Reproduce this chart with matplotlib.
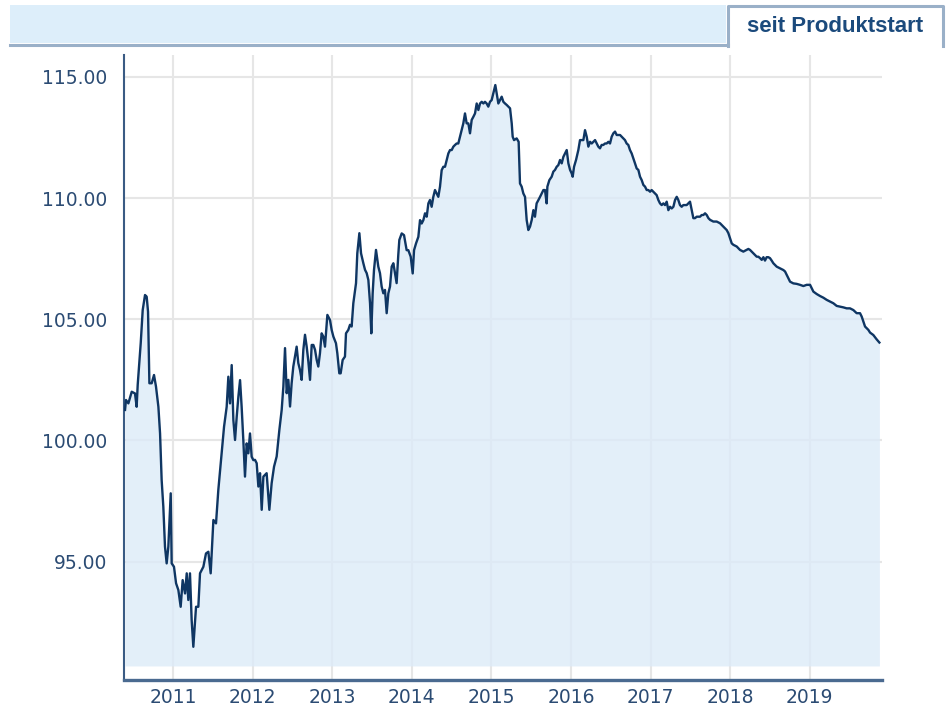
import matplotlib
matplotlib.use("Agg")
import matplotlib.pyplot as plt
from matplotlib.patches import Rectangle
from matplotlib.lines import Line2D

W, H = 947, 708

years = [
    2010.397, 2010.409, 2010.439, 2010.481, 2010.522, 2010.543, 2010.556, 2010.594, 2010.619, 2010.648,
    2010.669, 2010.686, 2010.703, 2010.732, 2010.761, 2010.786, 2010.816, 2010.837, 2010.857, 2010.878,
    2010.899, 2010.920, 2010.941, 2010.971, 2010.983, 2011.012, 2011.038, 2011.067, 2011.096, 2011.121,
    2011.151, 2011.172, 2011.192, 2011.213, 2011.234, 2011.255, 2011.289, 2011.318, 2011.339, 2011.381,
    2011.414, 2011.444, 2011.473, 2011.507, 2011.540, 2011.569, 2011.611, 2011.641, 2011.674, 2011.695,
    2011.716, 2011.737, 2011.758, 2011.779, 2011.800, 2011.821, 2011.842, 2011.862, 2011.883, 2011.904,
    2011.925, 2011.946, 2011.967, 2011.988, 2012.009,
    2012.030, 2012.051, 2012.072, 2012.093, 2012.114, 2012.135, 2012.176, 2012.210, 2012.239, 2012.269,
    2012.302, 2012.336, 2012.365, 2012.386, 2012.407, 2012.428, 2012.449, 2012.470, 2012.490, 2012.511,
    2012.553, 2012.574, 2012.595, 2012.616, 2012.637, 2012.658, 2012.679, 2012.700, 2012.721, 2012.742,
    2012.763, 2012.784, 2012.805, 2012.825, 2012.846, 2012.867, 2012.888, 2012.909, 2012.939, 2012.972,
    2012.993, 2013.014, 2013.047, 2013.064, 2013.089, 2013.106, 2013.131, 2013.160, 2013.173, 2013.202,
    2013.223, 2013.244, 2013.265, 2013.299, 2013.315, 2013.341, 2013.362, 2013.391, 2013.412, 2013.433,
    2013.454, 2013.475, 2013.491, 2013.508, 2013.525, 2013.550, 2013.579, 2013.600, 2013.621, 2013.642,
    2013.663, 2013.684, 2013.705, 2013.726, 2013.747, 2013.768, 2013.789, 2013.809, 2013.830, 2013.843,
    2013.873, 2013.902, 2013.935, 2013.956, 2013.986, 2014.011, 2014.028, 2014.053, 2014.082, 2014.103,
    2014.124, 2014.145, 2014.166, 2014.187, 2014.208, 2014.228, 2014.249, 2014.270, 2014.291, 2014.312,
    2014.333, 2014.354, 2014.375, 2014.396, 2014.417, 2014.438, 2014.459, 2014.480, 2014.501, 2014.522,
    2014.543, 2014.563, 2014.584, 2014.605, 2014.626, 2014.647, 2014.668, 2014.689, 2014.710, 2014.731,
    2014.752, 2014.773, 2014.794, 2014.815, 2014.836, 2014.857, 2014.878, 2014.899, 2014.919, 2014.940,
    2014.961, 2014.982, 2015.003, 2015.024, 2015.049, 2015.066, 2015.087, 2015.108, 2015.129, 2015.150,
    2015.171, 2015.192, 2015.213, 2015.234, 2015.255, 2015.267, 2015.284, 2015.317, 2015.342, 2015.351,
    2015.359, 2015.380, 2015.401, 2015.422, 2015.443, 2015.464, 2015.485, 2015.506, 2015.527, 2015.547,
    2015.568, 2015.602,
    2015.632, 2015.653, 2015.673, 2015.694, 2015.703, 2015.728, 2015.757, 2015.778, 2015.799, 2015.820,
    2015.841, 2015.862, 2015.883, 2015.904, 2015.925, 2015.946, 2015.967, 2015.988, 2016.008, 2016.021,
    2016.038, 2016.063, 2016.092, 2016.113, 2016.134, 2016.155, 2016.176, 2016.197, 2016.218, 2016.239,
    2016.260, 2016.281, 2016.302, 2016.323, 2016.343, 2016.364, 2016.385, 2016.406, 2016.427, 2016.448,
    2016.469, 2016.490, 2016.511, 2016.532, 2016.553, 2016.574, 2016.595, 2016.616, 2016.637, 2016.658,
    2016.678, 2016.699, 2016.720, 2016.741, 2016.762, 2016.783, 2016.804, 2016.825, 2016.846, 2016.867,
    2016.888, 2016.909, 2016.930, 2016.951, 2016.972, 2016.993, 2017.013, 2017.034, 2017.055, 2017.076,
    2017.097, 2017.118, 2017.139, 2017.160, 2017.181, 2017.202, 2017.223, 2017.244, 2017.265, 2017.286,
    2017.307, 2017.328, 2017.348, 2017.369, 2017.390, 2017.411, 2017.432, 2017.453, 2017.474,
    2017.495, 2017.516, 2017.537, 2017.558, 2017.579, 2017.621, 2017.642, 2017.663, 2017.684, 2017.705,
    2017.726, 2017.747, 2017.788, 2017.830, 2017.872, 2017.893, 2017.914, 2017.956, 2017.977, 2017.998,
    2018.019, 2018.040, 2018.082, 2018.102, 2018.123, 2018.165, 2018.207, 2018.228, 2018.249, 2018.270,
    2018.291, 2018.312, 2018.333, 2018.354, 2018.375, 2018.396, 2018.417, 2018.437, 2018.458, 2018.479,
    2018.500, 2018.521, 2018.542, 2018.563, 2018.584, 2018.626, 2018.668, 2018.689, 2018.710, 2018.731,
    2018.752, 2018.793, 2018.835, 2018.877, 2018.919, 2018.961, 2019.003, 2019.024, 2019.045, 2019.087,
    2019.128, 2019.170, 2019.212, 2019.254, 2019.296, 2019.338, 2019.380, 2019.422, 2019.463, 2019.505,
    2019.547, 2019.589, 2019.631, 2019.652, 2019.673, 2019.694, 2019.715, 2019.736, 2019.757, 2019.798,
    2019.840, 2019.874,
]
prices = [
    101.26, 101.67, 101.53, 102.01, 101.94, 101.39, 102.29, 104.01, 105.38, 106.00,
    105.93, 105.31, 102.36, 102.36, 102.70, 102.22, 101.39, 100.29, 98.37, 97.27,
    95.62, 94.93, 95.62, 97.82, 94.93, 94.79, 94.11, 93.83, 93.14, 94.24,
    93.69, 94.52, 93.42, 94.52, 92.59, 91.49, 93.14, 93.14, 94.52, 94.79,
    95.34, 95.41, 94.52, 96.72, 96.58, 97.96, 99.47, 100.57, 101.39, 102.63,
    101.53, 103.11, 100.84, 100.02, 100.98, 101.81, 102.49, 101.39, 100.02, 98.51,
    99.88, 99.47, 100.29, 99.33, 99.19,
    99.20, 99.06, 98.10, 98.65, 97.14, 98.51, 98.65, 97.14, 98.24, 98.92,
    99.34, 100.44, 101.26, 102.22, 103.81, 101.95, 102.50, 101.40, 102.36, 103.05,
    103.87, 103.19, 102.91, 102.50, 103.74, 104.36, 103.87, 103.26, 102.50, 103.94,
    103.94, 103.74, 103.32, 103.05, 103.60, 104.42, 104.29, 103.87, 105.18, 104.97,
    104.56, 104.29, 104.01, 103.60, 102.77, 102.77, 103.32, 103.46, 104.42, 104.56,
    104.77, 104.70, 105.66, 106.49, 107.72, 108.55, 107.72, 107.31, 107.04, 106.90,
    106.62, 105.66, 104.42, 106.07, 107.04, 107.86, 107.17, 106.90, 106.35, 106.07,
    106.21, 105.25, 106.07, 106.35, 107.17, 107.31, 106.90, 106.49, 107.66, 108.27,
    108.54, 108.47, 107.85, 107.85, 107.58, 106.89, 107.85, 108.13, 108.40, 109.09,
    108.95, 109.09, 109.37, 109.23, 109.78, 109.92, 109.64, 110.05, 110.33, 110.19,
    110.05, 110.47, 111.15, 111.29, 111.29, 111.57, 111.84, 111.98, 111.98, 112.12,
    112.19, 112.25, 112.25, 112.53, 112.80, 113.08, 113.49, 113.08, 113.08, 112.67,
    113.22, 113.35, 113.49, 113.90, 113.63, 113.90, 113.97, 113.90, 113.97, 113.90,
    113.77, 113.97, 114.04, 114.32, 114.66, 114.32, 113.90, 114.04, 114.18, 113.97,
    113.90, 113.84, 113.77, 113.70, 113.08, 112.53, 112.39, 112.46, 112.32, 111.43,
    110.60, 110.47, 110.19, 110.05, 109.09, 108.68, 108.82, 109.09, 109.50, 109.23,
    109.78, 109.99,
    110.19, 110.33, 110.33, 109.78, 110.47, 110.74, 110.88, 111.09, 111.16, 111.29,
    111.36, 111.57, 111.43, 111.70, 111.84, 111.98, 111.43, 111.16, 111.02, 110.88,
    111.29, 111.57, 111.98, 112.39, 112.39, 112.39, 112.80, 112.53, 112.12, 112.32,
    112.25, 112.32, 112.39, 112.25, 112.12, 112.05, 112.19, 112.19, 112.25, 112.25,
    112.32, 112.25, 112.53, 112.67, 112.74, 112.60, 112.60, 112.60, 112.53, 112.46,
    112.39, 112.25, 112.19, 111.98, 111.84, 111.64, 111.43, 111.22, 111.16, 110.88,
    110.74, 110.54, 110.47, 110.33, 110.33, 110.26, 110.33, 110.26, 110.19, 110.12,
    109.92, 109.78, 109.71, 109.78, 109.71, 109.85, 109.50, 109.64, 109.57, 109.64,
    109.92, 110.05, 109.92, 109.71, 109.64, 109.71, 109.71, 109.71, 109.78,
    109.85, 109.51, 109.17, 109.17, 109.23, 109.23, 109.30, 109.30, 109.37, 109.30,
    109.17, 109.10, 109.03, 109.03, 108.96, 108.89, 108.82, 108.68, 108.55, 108.34,
    108.13, 108.07, 108.00, 107.93, 107.86, 107.79, 107.86, 107.90, 107.86, 107.79,
    107.72, 107.65, 107.58, 107.58, 107.52, 107.45, 107.56, 107.42, 107.56, 107.56,
    107.52, 107.42, 107.31, 107.24, 107.17, 107.10, 107.03, 106.97, 106.83, 106.69,
    106.55, 106.48, 106.46, 106.42, 106.37, 106.42, 106.42, 106.28, 106.14, 106.04,
    105.96, 105.89, 105.80, 105.73, 105.66, 105.55, 105.52, 105.49, 105.45, 105.45,
    105.38, 105.25, 105.25, 105.11, 104.90, 104.70, 104.63, 104.56, 104.45, 104.35,
    104.17, 104.04,
]

year_ticks = list(range(2011, 2020))
price_ticks = [95, 100, 105, 110, 115]
tab_label = "seit Produktstart"

line_col = "#0f3663"
text_col = "#2b4b73"
border_col = "#9ab0c8"


def fx(px):
    return px / W


def fy(py):
    return 1 - py / H


fig = plt.figure(figsize=(W / 100, H / 100), dpi=100)

# Kopfzeile mit Reiter
fig.add_artist(Rectangle((fx(10), fy(43)), fx(726) - fx(10), fy(5) - fy(43),
                         transform=fig.transFigure, facecolor="#ddeefa", edgecolor="none"))
fig.add_artist(Line2D([fx(10), fx(728)], [fy(44.5), fy(44.5)], transform=fig.transFigure,
                      color=border_col, lw=2.2))
fig.add_artist(Line2D([fx(728), fx(728), fx(942.5), fx(942.5)], [fy(46), fy(5.5), fy(5.5), fy(46)],
                      transform=fig.transFigure, color=border_col, lw=2.2))
fig.text(fx(835), fy(26), tab_label, ha="center", va="center", fontsize=16,
         fontweight="bold", color="#1b4a7c", family="Liberation Sans")

# Diagramm
ax = fig.add_axes([fx(124), fy(680), fx(882) - fx(124), fy(55) - fy(680)])
ax.set_xlim(2010.384, 2019.907)
ax.set_ylim(90.12, 115.90)

ax.fill_between(years, prices, 90.70, color="#dcebf8", alpha=0.8, lw=0, zorder=2)
ax.plot(years, prices, color=line_col, lw=1.7, zorder=3)

ax.set_xticks(year_ticks)
ax.set_xticklabels([str(y) for y in year_ticks])
ax.set_yticks(price_ticks)
ax.set_yticklabels([f"{p:.2f}" for p in price_ticks])
ax.set_axisbelow(True)
ax.grid(color="#e6e6e6", lw=1.5)

for s in ["top", "right"]:
    ax.spines[s].set_visible(False)
ax.spines["left"].set_color("#3a5b84")
ax.spines["left"].set_linewidth(1.5)
ax.spines["bottom"].set_color("#4a6a90")
ax.spines["bottom"].set_linewidth(2.4)

ax.tick_params(length=0, labelsize=13.5, colors=text_col)
ax.tick_params(axis="y", pad=12)
ax.tick_params(axis="x", pad=6)

fig.savefig("out.png", dpi=100)
